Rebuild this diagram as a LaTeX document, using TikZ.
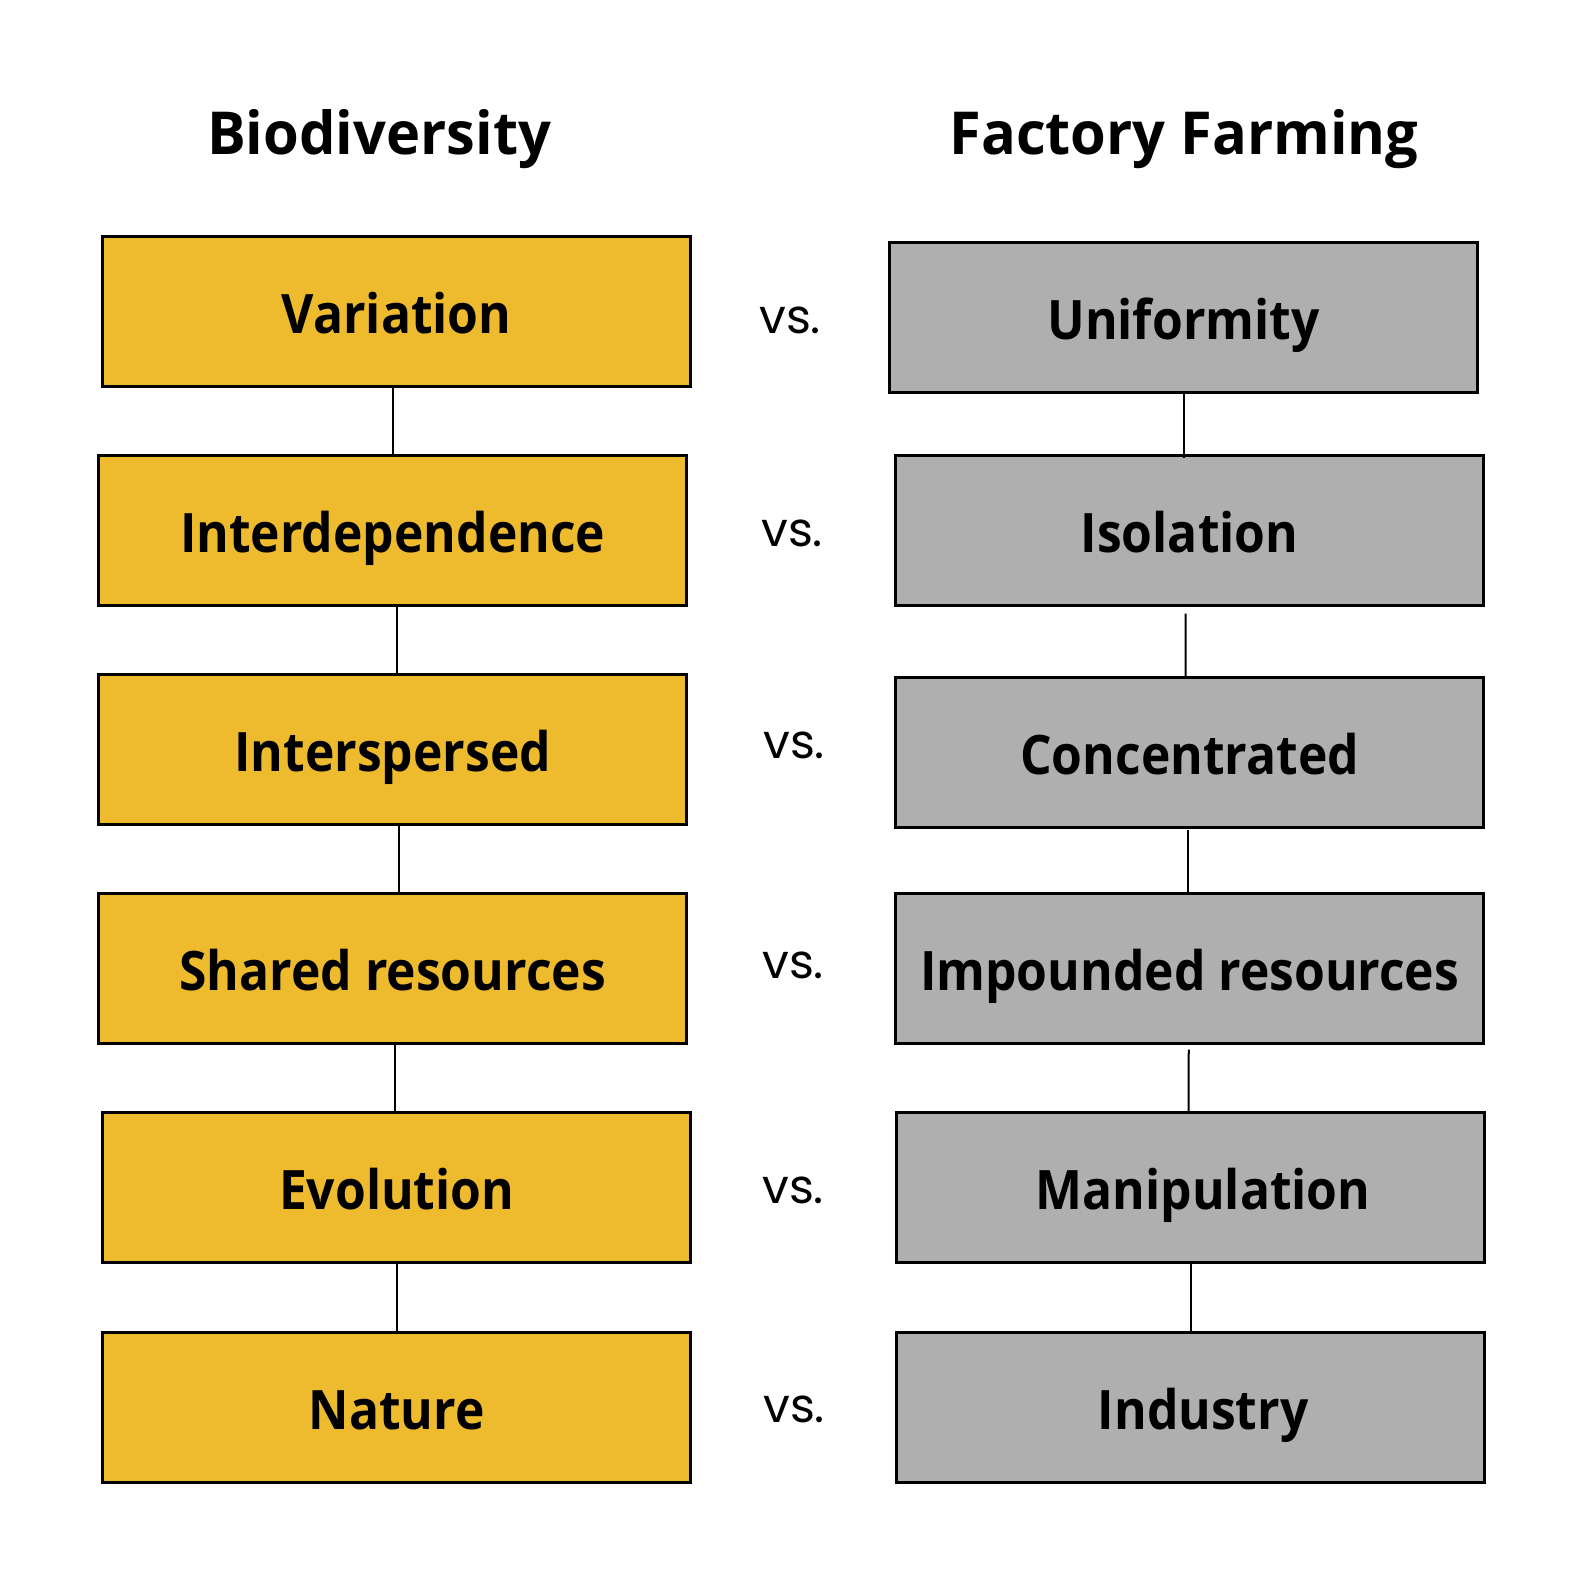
\documentclass[tikz,border=0pt]{standalone}
\usepackage{fontspec}
\setmainfont{Open Sans}
\newfontfamily\boxfont[FakeStretch=0.915]{Open Sans}
\newfontfamily\titlefont[FakeStretch=0.975]{Open Sans}
\newfontfamily\vsfont{Poppins}
\usetikzlibrary{calc}
\definecolor{gold}{HTML}{EEBB2E}
\definecolor{greybox}{HTML}{AFAFAF}
\begin{document}
\begin{tikzpicture}[x=0.5pt,y=-0.5pt,
  box/.style={draw=black,line width=1.5pt,rectangle,inner sep=0pt,
    minimum width=291.5pt,minimum height=74.5pt,
    font=\boxfont\fontsize{27}{30}\selectfont\bfseries,text height=21.8pt,text depth=0pt},
  goldbox/.style={box,fill=gold},
  greybox/.style={box,fill=greybox},
  vs/.style={font=\vsfont\fontsize{23.7}{26}\selectfont,inner sep=0pt},
  title/.style={font=\titlefont\fontsize{29.4}{33}\selectfont\bfseries,inner sep=0pt},
  conn/.style={draw=black,line width=1pt}]
\useasboundingbox (0,0) rectangle (1577,1569);
\fill[white] (0,0) rectangle (1577,1569);
\begin{scope}[shift={(-1.8,-1.7)},scale=1.0075,transform shape]
% titles
\node[title] (t1) at (378,140) {Biodiversity};
\node[title] (t2) at (1177,140) {Factory Farming};
% left boxes
\node[goldbox] (l1) at (395.5,310.5) {Variation};
\node[goldbox] (l2) at (391.5,528.5) {Interdependence};
\node[goldbox] (l3) at (391.5,745.5) {Interspersed};
\node[goldbox] (l4) at (391.5,963) {Shared resources};
\node[goldbox] (l5) at (395.5,1180.5) {Evolution};
\node[goldbox] (l6) at (395.5,1398.5) {Nature};
% right boxes
\node[greybox] (r1) at (1176.5,316.5) {Uniformity};
\node[greybox] (r2) at (1182.5,528.5) {Isolation};
\node[greybox] (r3) at (1182.5,749) {Concentrated};
\node[greybox] (r4) at (1182.5,963) {Impounded resources};
\node[greybox] (r5) at (1183.5,1180.5) {\hspace*{12.5pt}Manipulation};
\node[greybox] (r6) at (1183.5,1398.5) {\hspace*{12.5pt}Industry};
% vs
\node[vs] (v1) at (786,320) {vs.};
\node[vs] (v2) at (788,531) {vs.};
\node[vs] (v3) at (790,742) {vs.};
\node[vs] (v4) at (789,960) {vs.};
\node[vs] (v5) at (789,1183) {vs.};
\node[vs] (v6) at (790,1401) {vs.};
% connector end points
\coordinate (a1) at (l2.north);
\coordinate (a2) at ($(l3.north)+(4.5,0)$);
\coordinate (a3) at ($(l4.north)+(6.5,0)$);
\coordinate (a4) at ($(l5.north)+(-1.5,0)$);
\coordinate (a5) at ($(l6.north)+(0.5,0)$);
\coordinate (b1) at ($(r2.north)+(-6.5,4)$);
\coordinate (b1t) at ($(r2.north)+(-6.5,0)$);
\coordinate (b2) at ($(r3.north)+(-4.5,0)$);
\coordinate (b3) at ($(r4.north)+(-2.5,0)$);
\coordinate (b4) at ($(r5.north)+(-2.5,0)$);
\coordinate (b5) at ($(r6.north)+(-0.5,0)$);
\coordinate (b2t) at ($(b2 |- r2.south)+(0,6)$);
\coordinate (b4t) at ($(b4 |- r4.south)+(0,4)$);
% left connectors
\draw[conn] (a1) -- (a1 |- l1.south);
\draw[conn] (a2) -- (a2 |- l2.south);
\draw[conn] (a3) -- (a3 |- l3.south);
\draw[conn] (a4) -- (a4 |- l4.south);
\draw[conn] (a5) -- (a5 |- l5.south);
% right connectors
\draw[conn] (b1) -- (b1t |- r1.south);
\draw[conn] (b2) -- (b2t);
\draw[conn] (b3) -- (b3 |- r3.south);
\draw[conn] (b4) -- (b4t);
\draw[conn] (b5) -- (b5 |- r5.south);
\end{scope}
\end{tikzpicture}
\end{document}
